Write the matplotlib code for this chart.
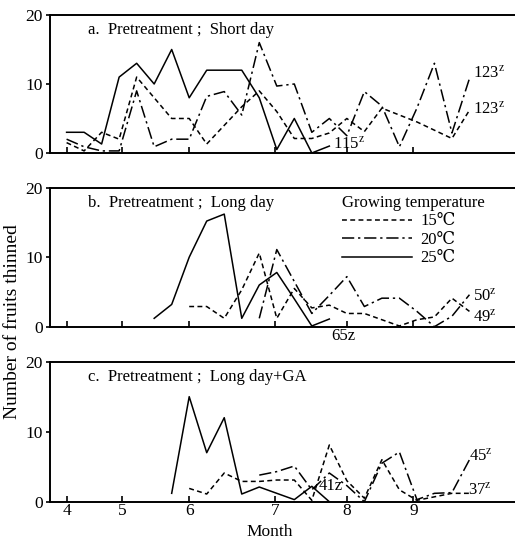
import numpy as np
import matplotlib
matplotlib.use('Agg')
import matplotlib.pyplot as plt

plt.rcParams['font.family'] = ['Liberation Serif', 'DejaVu Serif']
plt.rcParams['mathtext.fontset'] = 'stix'

# month labels and where they sit on the week axis (week 0 = first sampling)
months = ['4', '5', '6', '7', '8', '9']
month_pos = [0, 3.15, 7, 11.9, 16, 19.8]

temps = ['15℃', '20℃', '25℃']

# a. Pretreatment; Short day  (first week of each series)
a_start = [0, 0, 0]
a_15 = [1.5, 0.3, 3, 2, 11, 8, 5, 5, 1.3, 4, 6.7, 9, 6, 2.1, 2.1, 2.9, 5, 3.1, 6.5, 5.5, 4.5, 3.3, 2.1, 6.2]
a_20 = [2, 0.9, 0.3, 0.3, 9, 0.9, 2, 2, 8.2, 8.9, 5.5, 16, 9.7, 10, 3, 5, 2.5, 8.9, 6.8, 0.9, 6.5, 13, 2.9, 10.8]
a_25 = [3, 3, 1.3, 11, 13, 10, 15, 8, 12, 12, 12, 8, 0.5, 5, 0, 1]

# b. Pretreatment; Long day
b_start = [7, 11, 5]
b_15 = [2.9, 2.9, 1.2, 5.3, 10.6, 1.2, 5.5, 2.7, 3.1, 1.9, 1.9, 1.0, 0.1, 1.0, 1.4, 4.1, 2.2]
b_20 = [1.2, 11.1, 6.5, 1.9, 4.5, 7.2, 2.9, 4.1, 4.1, 2.2, 0, 1.5, 4.6]
b_25 = [1.2, 3.2, 10, 15.2, 16.2, 1.2, 6, 7.8, 4, 0.1, 1.1]

# c. Pretreatment; Long day+GA
c_start = [7, 11, 6]
c_15 = [1.9, 1.1, 4.1, 2.9, 2.9, 3.1, 3.1, 0.2, 8.1, 3, 0.5, 6, 1.7, 0.2, 0.7, 1.2, 1.2]
c_20 = [3.8, 4.3, 5.1, 1.7, 4.1, 2.3, 0, 5.5, 7.1, 0.3, 1.2, 1.3, 6]
c_25 = [1.2, 15, 7, 12, 1.1, 2.1, 1.2, 0.3, 2.2, 0]

titles = ['a.  Pretreatment ;  Short day',
          'b.  Pretreatment ;  Long day',
          'c.  Pretreatment ;  Long day+GA']

# totals written at the line ends: (text, week, value)
a_notes = [('115$^{\\rm z}$', 15.2, 1.3), ('123$^{\\rm z}$', 23.2, 11.5), ('123$^{\\rm z}$', 23.2, 6.3)]
b_notes = [('65z', 15.1, -1.4), ('50$^{\\rm z}$', 23.2, 4.4), ('49$^{\\rm z}$', 23.2, 1.3)]
c_notes = [('41z', 14.4, 2.2), ('45$^{\\rm z}$', 23.0, 6.5), ('37$^{\\rm z}$', 22.9, 1.6)]

panels = [(a_start, [a_15, a_20, a_25], a_notes),
          (b_start, [b_15, b_20, b_25], b_notes),
          (c_start, [c_15, c_20, c_25], c_notes)]

styles = [dict(dashes=(3.2, 2.2)), dict(dashes=(8, 2.5, 1.5, 2.5)), dict(linestyle='-')]

fig = plt.figure(figsize=(5.15, 5.45), dpi=100)
boxes = [[0.097, 0.7193, 0.903, 0.2532],
         [0.097, 0.4006, 0.903, 0.2550],
         [0.097, 0.0794, 0.903, 0.2570]]

for i, (starts, series, notes) in enumerate(panels):
    ax = fig.add_axes(boxes[i])
    lines = []
    for s, vals, st, lab in zip(starts, series, styles, temps):
        wk = np.arange(s, s + len(vals))
        ln, = ax.plot(wk, vals, color='black', lw=1.1, label=lab, **st)
        lines.append(ln)
    for txt, xx, yy in notes:
        ax.text(xx, yy, txt, fontsize=12, ha='left', va='center', clip_on=False)
    ax.text(0.082, 0.95, titles[i], transform=ax.transAxes, fontsize=12, va='top', ha='left')

    ax.set_xlim(-0.95, 25.6)
    ax.set_ylim(0, 20)
    ax.set_yticks([0, 10, 20])
    ax.set_xticks(month_pos)
    if i == 2:
        ax.set_xticklabels(months)
    else:
        ax.set_xticklabels([])
    ax.tick_params(axis='x', direction='in', length=4, width=1.2, labelsize=12.5, pad=1)
    ax.tick_params(axis='y', direction='out', length=3, width=1.2, labelsize=12.5, pad=2)
    ax.spines['right'].set_visible(False)
    for sp in ['left', 'bottom', 'top']:
        ax.spines[sp].set_linewidth(1.4)

    if i == 1:
        ax.legend(handles=lines, title='Growing temperature', loc='upper left',
                  bbox_to_anchor=(0.625, 0.96), frameon=False, fontsize=12,
                  title_fontsize=12, alignment='left', handlelength=4.2,
                  handletextpad=0.5, labelspacing=0.15, borderpad=0.1,
                  borderaxespad=0)

fig.text(13 / 515, 1 - 322 / 545, 'Number of fruits thinned', rotation=90,
         ha='center', va='center', fontsize=14)
fig.text(270 / 515, 1 - 532 / 545, 'Month', ha='center', va='center', fontsize=12.5)

fig.savefig('out.png', dpi=100)
